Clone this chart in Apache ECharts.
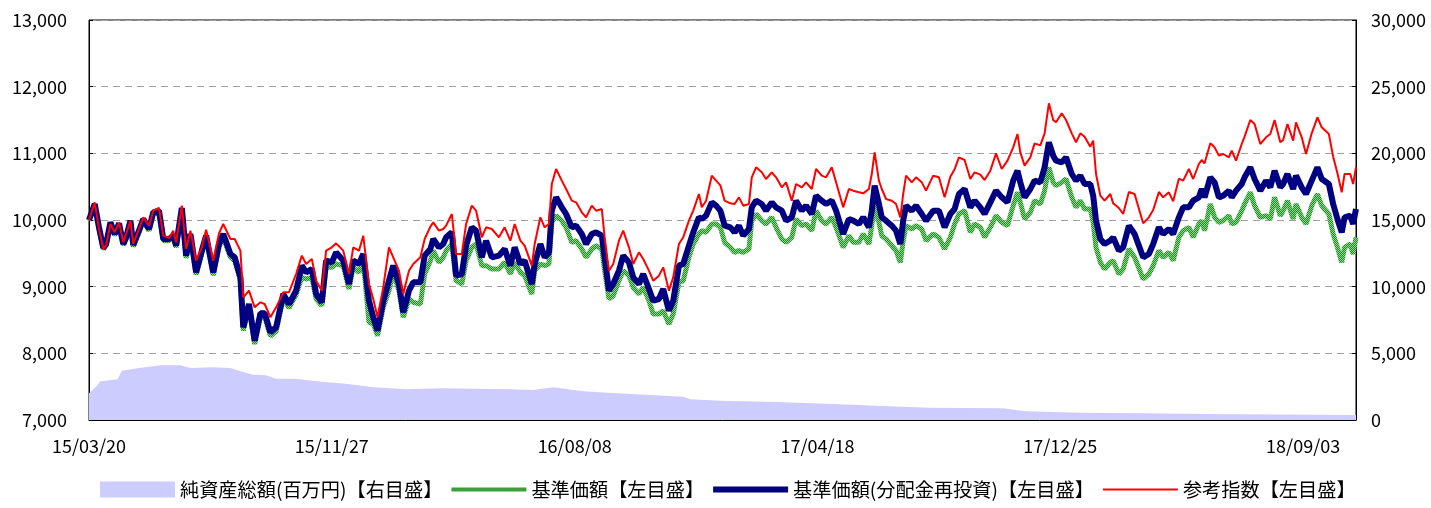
<!DOCTYPE html>
<html>
<head>
<meta charset="utf-8">
<script src="https://cdn.jsdelivr.net/npm/echarts@6/dist/echarts.min.js"></script>
<style>
  html, body { margin: 0; padding: 0; background: #fff; }
  #chart { width: 1431px; height: 508px; }
</style>
</head>
<body>
<div id="chart"></div>
<script>
const FONT = '"Noto Sans CJK JP", "Noto Sans", sans-serif';

// x = trading day index from 15/03/20, a label every 170 days
const tickLabels = ['15/03/20', '15/11/27', '16/08/08', '17/04/18', '17/12/25', '18/09/03'];
const TICK_STEP = 170;
const LAST_DAY = 887;

const days = [
    0, 4, 7, 10, 12, 15, 18, 21, 24, 26, 29, 31, 35, 38, 42, 45, 49, 52, 56, 59, 61, 65, 68, 71, 75, 79, 82, 87, 91, 94, 99, 102, 106, 108, 112, 116, 120, 123, 127, 131, 136, 140,
    145, 149, 152, 156, 159, 163, 166, 170, 173, 178, 182, 185, 189, 192, 196, 199, 202, 206, 210, 213, 217, 220, 224, 227, 232, 235, 239, 241, 245, 248, 250, 254, 257, 261, 264, 268, 271, 275, 278, 282, 287,
    291, 295, 298, 302, 305, 310, 312, 316, 319, 322, 324, 327, 331, 334, 338, 341, 345, 348, 352, 355, 359, 361, 364, 367, 371, 374, 378, 381, 385, 388, 392, 395, 399, 402, 406, 409, 413, 416, 420, 423, 427, 429, 432, 436, 439,
    442, 445, 449, 452, 455, 458, 462, 464, 467, 471, 474, 478, 481, 485, 488, 492, 495, 499, 502, 506, 509, 513, 516, 520, 523, 528, 532, 535, 539, 542, 546, 548, 550, 553, 555, 558, 562, 565, 568, 570, 572, 576, 579, 583, 586,
    591, 595, 599, 603, 606, 609, 613, 617, 620, 624, 627, 631, 635, 639, 643, 647, 650, 652, 655, 659, 662, 666, 669, 672, 675, 677, 681, 684, 688, 691, 694, 697, 701, 703, 705, 708, 711, 715, 717, 721, 724, 728, 732,
    738, 742, 745, 749, 752, 756, 759, 763, 766, 770, 773, 777, 779, 781, 785, 788, 791, 794, 798, 800, 803, 807, 809, 813, 816, 820, 824, 827, 830, 834, 836, 839, 843, 845, 849, 852, 856, 860, 863, 868, 871, 874, 877, 879, 883, 885, 887
];

// 基準価額
const navPrice = [
    9990, 10220, 9870, 9560, 9620, 9950, 9770, 9930, 9620, 9720, 9970, 9600, 9820, 9990, 9840, 10090, 10110, 9690, 9690, 9740, 9590, 10150, 9430, 9760, 9180, 9500, 9730, 9170, 9600, 9740, 9440, 9390, 9090, 8340, 8690, 8140, 8550, 8550, 8260, 8330, 8830, 8680,
    8880, 9140, 9115, 9140, 8815, 8715, 9290, 9290, 9340, 9315, 8965, 9290, 9215, 9390, 8465, 8440, 8265, 8690, 8940, 9215, 8940, 8540, 8815, 8765, 8740, 9190, 9390, 9540, 9365, 9440, 9540, 9640, 9090, 9040, 9390, 9590, 9640, 9315, 9315, 9265, 9265,
    9365, 9190, 9365, 9215, 9165, 8890, 9240, 9340, 9315, 9340, 9965, 10065, 9990, 9890, 9665, 9690, 9565, 9440, 9565, 9615, 9565, 9240, 8815, 8865, 9090, 9240, 9165, 8990, 8890, 8990, 8790, 8590, 8590, 8640, 8440, 8590, 9065, 9090, 9440, 9640, 9790, 9840, 9815, 9940, 9940,
    9890, 9665, 9590, 9515, 9540, 9515, 9565, 9990, 10090, 9990, 9940, 10040, 9890, 9715, 9665, 9740, 10015, 9915, 9940, 9840, 10140, 9990, 9940, 10040, 9890, 9590, 9765, 9665, 9665, 9790, 9640, 9915, 10240, 9965, 9765, 9715, 9615, 9540, 9365, 9690, 9915, 9865, 9915, 9865, 9690,
    9790, 9740, 9565, 9740, 9940, 10090, 10140, 9815, 9940, 9890, 9740, 9890, 10065, 9965, 9915, 10215, 10415, 10265, 10015, 10115, 10290, 10240, 10440, 10790, 10565, 10515, 10565, 10615, 10340, 10190, 10290, 10165, 10165, 9965, 9590, 9365, 9265, 9365, 9390, 9190, 9265, 9565, 9440,
    9115, 9190, 9315, 9540, 9440, 9515, 9390, 9740, 9840, 9890, 9740, 9940, 9990, 9840, 10240, 10040, 9965, 9990, 10065, 9940, 9965, 10140, 10240, 10415, 10215, 10040, 10065, 10015, 10340, 10065, 10140, 10290, 10015, 10240, 10040, 9940, 10215, 10390, 10215, 10090, 9790, 9590, 9365, 9590, 9640, 9490, 9740
];

// 基準価額(分配金再投資)
const navReinvest = [
    10000, 10240, 9890, 9580, 9640, 9965, 9790, 9950, 9640, 9740, 9990, 9625, 9840, 10015, 9865, 10115, 10140, 9715, 9715, 9765, 9615, 10180, 9465, 9790, 9215, 9540, 9765, 9215, 9640, 9790, 9490, 9440, 9140, 8390, 8740, 8190, 8600, 8600, 8315, 8390, 8890, 8740,
    8940, 9315, 9215, 9265, 8890, 8765, 9390, 9365, 9515, 9390, 9040, 9390, 9340, 9490, 8790, 8540, 8340, 8790, 9090, 9315, 9040, 8615, 8940, 9065, 9065, 9465, 9565, 9715, 9590, 9640, 9740, 9815, 9165, 9190, 9615, 9890, 9840, 9440, 9690, 9440, 9465,
    9565, 9315, 9590, 9340, 9390, 9040, 9340, 9640, 9440, 9515, 10140, 10340, 10190, 10090, 9890, 9915, 9790, 9640, 9790, 9815, 9765, 9440, 8940, 9040, 9240, 9465, 9365, 9140, 9040, 9190, 8965, 8790, 8815, 8965, 8640, 8790, 9315, 9340, 9615, 9815, 10040, 10015, 10065, 10265, 10215,
    10140, 9915, 9890, 9815, 9915, 9765, 9865, 10190, 10290, 10240, 10140, 10265, 10190, 10140, 9990, 10040, 10290, 10140, 10215, 10090, 10365, 10290, 10240, 10290, 10140, 9790, 10015, 9990, 9940, 10040, 9890, 10140, 10515, 10240, 10040, 9990, 9915, 9840, 9640, 9990, 10215, 10140, 10215, 10090, 9990,
    10140, 10140, 9890, 10090, 10165, 10390, 10465, 10190, 10290, 10190, 10090, 10265, 10440, 10340, 10265, 10590, 10740, 10565, 10340, 10465, 10590, 10565, 10790, 11165, 10965, 10890, 10865, 10940, 10690, 10590, 10665, 10540, 10540, 10365, 9990, 9715, 9640, 9690, 9740, 9540, 9590, 9915, 9790,
    9440, 9490, 9640, 9890, 9790, 9865, 9790, 10040, 10190, 10190, 10290, 10340, 10465, 10340, 10640, 10565, 10340, 10365, 10440, 10340, 10440, 10540, 10640, 10790, 10615, 10440, 10590, 10490, 10740, 10490, 10540, 10690, 10465, 10665, 10490, 10390, 10590, 10790, 10615, 10540, 10240, 10015, 9815, 10040, 10065, 9940, 10165
];

// 参考指数
const refIndex = [
    10000, 10265, 9865, 9565, 9615, 9940, 9815, 9965, 9665, 9790, 9990, 9640, 9865, 10040, 9915, 10140, 10180, 9765, 9730, 9840, 9665, 10215, 9565, 9840, 9390, 9590, 9855, 9390, 9800, 9940, 9715, 9715, 9540, 8840, 8940, 8690, 8765, 8740, 8540, 8690, 8915, 8915,
    9190, 9465, 9340, 9415, 9090, 8940, 9540, 9590, 9650, 9540, 9190, 9590, 9540, 9765, 9040, 8815, 8540, 8990, 9590, 9440, 9240, 8890, 9240, 9340, 9440, 9715, 9900, 9965, 9840, 9865, 9915, 10090, 9490, 9490, 9940, 10215, 10140, 9740, 9890, 9865, 9740,
    9890, 9690, 9940, 9690, 9615, 9315, 9640, 10040, 9890, 9940, 10540, 10765, 10590, 10465, 10290, 10265, 10115, 10040, 10215, 10140, 10165, 9740, 9240, 9340, 9690, 9840, 9590, 9340, 9515, 9415, 9240, 9090, 9165, 9290, 8940, 9140, 9640, 9740, 9990, 10140, 10390, 10190, 10290, 10665, 10590,
    10520, 10290, 10250, 10240, 10340, 10215, 10240, 10640, 10790, 10715, 10615, 10715, 10640, 10490, 10565, 10290, 10540, 10490, 10565, 10465, 10765, 10665, 10640, 10790, 10565, 10190, 10465, 10440, 10415, 10400, 10465, 10690, 11015, 10590, 10465, 10315, 10290, 10240, 10040, 10390, 10665, 10565, 10640, 10565, 10440,
    10665, 10640, 10340, 10650, 10760, 10940, 10900, 10615, 10715, 10680, 10600, 10740, 11000, 10765, 10890, 11090, 11290, 11015, 10815, 10940, 11150, 11120, 11300, 11750, 11500, 11465, 11600, 11500, 11300, 11165, 11300, 11250, 11100, 11190, 10690, 10365, 10290, 10390, 10250, 10180, 10090, 10420, 10390,
    9950, 10040, 10150, 10420, 10340, 10415, 10280, 10620, 10590, 10765, 10615, 10840, 10900, 10850, 11150, 11090, 10965, 10990, 10940, 11040, 10890, 11140, 11250, 11500, 11440, 11140, 11240, 11290, 11500, 11165, 11200, 11440, 11190, 11465, 11240, 10990, 11300, 11540, 11390, 11290, 10950, 10700, 10415, 10690, 10690, 10540, 10790
];

// 純資産総額(百万円)
const assetDays = [0, 5, 8, 20, 23, 35, 50, 64, 71, 87, 99, 106, 115, 124, 131, 145, 152, 164, 176, 187, 199, 222, 246, 269, 295, 311, 325, 346, 369, 393, 416, 421, 442, 481, 521, 551, 568, 589, 640, 656, 694, 736, 799, 887];
const assets = [2000, 2500, 2900, 3050, 3700, 3900, 4100, 4100, 3900, 3950, 3900, 3650, 3400, 3350, 3100, 3100, 3000, 2850, 2750, 2625, 2450, 2300, 2375, 2350, 2300, 2250, 2450, 2150, 2000, 1875, 1750, 1550, 1450, 1350, 1200, 1075, 1000, 925, 875, 650, 550, 500, 430, 375];

function pairs(xs, ys) {
    return xs.map(function (x, i) { return [x, ys[i]]; });
}

function comma(v) {
    return String(v).replace(/\B(?=(\d{3})+(?!\d))/g, ',');
}

// checkered green like the printed line
function greenPattern() {
    let c = document.createElement('canvas');
    c.width = 2;
    c.height = 2;
    let ctx = c.getContext('2d');
    ctx.fillStyle = '#1f8a1f';
    ctx.fillRect(0, 0, 2, 2);
    ctx.fillStyle = '#8fd88f';
    ctx.fillRect(0, 0, 1, 1);
    ctx.fillRect(1, 1, 1, 1);
    return {image: c, repeat: 'repeat'};
}

let myChart = echarts.init(document.getElementById('chart'));

let option = {
    animation: false,
    backgroundColor: '#fff',
    textStyle: {fontFamily: FONT, color: '#000'},
    grid: {
        left: 89, right: 75, top: 20, bottom: 88,
        show: true, borderColor: '#000', borderWidth: 1
    },
    legend: {
        bottom: 4,
        left: 95,
        itemWidth: 75,
        itemHeight: 16,
        itemGap: 9,
        symbolKeepAspect: true,
        textStyle: {fontFamily: FONT, fontSize: 19.2, color: '#000'},
        data: [
            {name: '純資産総額(百万円)【右目盛】', icon: 'rect', itemStyle: {color: '#ccccff'}},
            {name: '基準価額【左目盛】', icon: 'path://M0,0H75V4H0Z', itemStyle: {color: '#3a9e3a'}},
            {name: '基準価額(分配金再投資)【左目盛】', icon: 'path://M0,0H75V6H0Z', itemStyle: {color: '#000080'}},
            {name: '参考指数【左目盛】', icon: 'path://M0,0H75V2H0Z', itemStyle: {color: '#ff0000'}}
        ]
    },
    xAxis: {
        type: 'value',
        min: 0,
        max: LAST_DAY,
        interval: TICK_STEP,
        axisLine: {show: true, lineStyle: {color: '#000'}},
        axisTick: {show: true, inside: true, length: 5, lineStyle: {color: '#000'}},
        splitLine: {show: false},
        axisLabel: {
            margin: 17,
            fontSize: 18,
            color: '#000',
            fontFamily: FONT,
            showMaxLabel: false,
            formatter: function (v) {
                let k = v / TICK_STEP;
                return (Number.isInteger(k) && k < tickLabels.length) ? tickLabels[k] : '';
            }
        }
    },
    yAxis: [
        {
            type: 'value',
            min: 7000, max: 13000, interval: 1000,
            axisLine: {show: true, lineStyle: {color: '#000'}},
            axisTick: {show: true, inside: true, length: 4, lineStyle: {color: '#000'}},
            splitLine: {show: true, lineStyle: {color: '#a0a0a0', type: [7, 5]}},
            axisLabel: {margin: 22, fontSize: 18, color: '#000', fontFamily: FONT, formatter: comma}
        },
        {
            type: 'value',
            min: 0, max: 30000, interval: 5000,
            axisLine: {show: true, lineStyle: {color: '#000'}},
            axisTick: {show: true, inside: true, length: 4, lineStyle: {color: '#000'}},
            splitLine: {show: false},
            axisLabel: {margin: 15, fontSize: 18, color: '#000', fontFamily: FONT, formatter: comma}
        }
    ],
    series: [
        {
            name: '純資産総額(百万円)【右目盛】',
            type: 'line',
            yAxisIndex: 1,
            symbol: 'none',
            itemStyle: {color: '#ccccff'},
            lineStyle: {width: 0, color: '#ccccff'},
            areaStyle: {color: '#ccccff', opacity: 1},
            data: pairs(assetDays, assets)
        },
        {
            name: '基準価額【左目盛】',
            type: 'line',
            symbol: 'none',
            itemStyle: {color: '#3a9e3a'},
            lineStyle: {color: greenPattern(), width: 5},
            data: pairs(days, navPrice)
        },
        {
            name: '基準価額(分配金再投資)【左目盛】',
            type: 'line',
            symbol: 'none',
            itemStyle: {color: '#000080'},
            lineStyle: {color: '#000080', width: 6},
            data: pairs(days, navReinvest)
        },
        {
            name: '参考指数【左目盛】',
            type: 'line',
            symbol: 'none',
            itemStyle: {color: '#ff0000'},
            lineStyle: {color: '#ff0000', width: 2},
            data: pairs(days, refIndex)
        }
    ]
};

if (option && typeof option === "object") {
    myChart.setOption(option, true);
}
</script>
</body>
</html>
